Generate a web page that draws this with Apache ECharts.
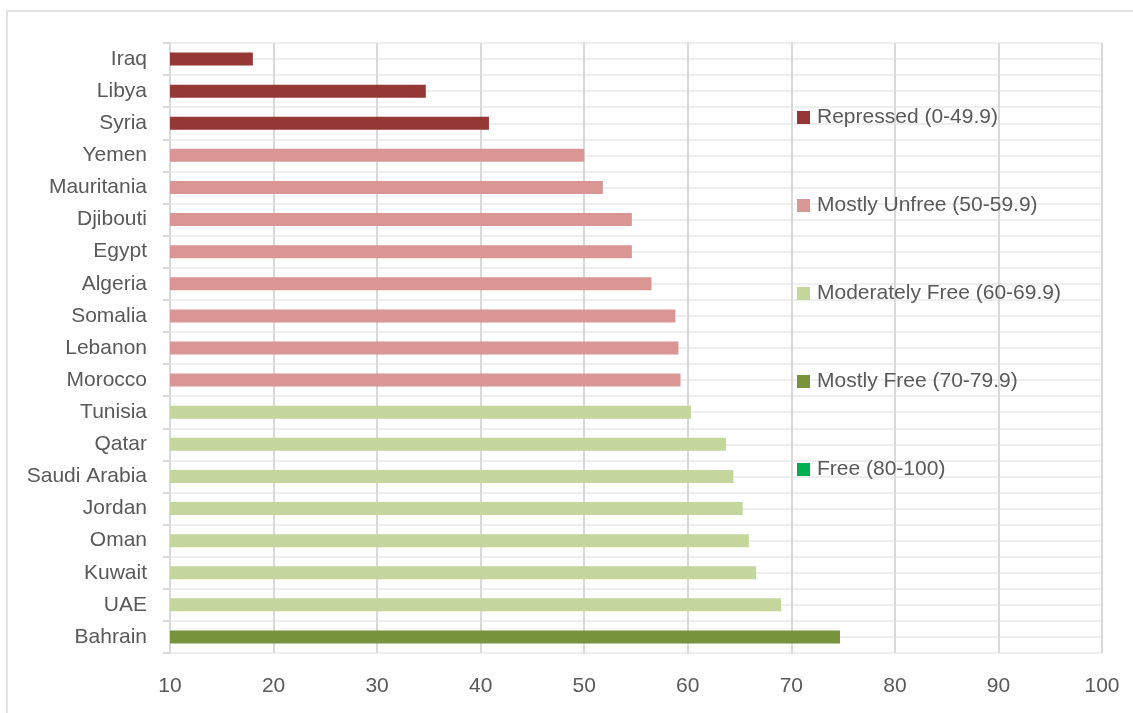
<!DOCTYPE html>
<html>
<head>
<meta charset="utf-8">
<script src="https://cdn.jsdelivr.net/npm/echarts@6/dist/echarts.min.js"></script>
<style>html,body{margin:0;padding:0;background:#fff;}#c{width:1133px;height:713px;}</style>
</head>
<body>
<div id="c"></div>
<script>
const countries = ['Iraq','Libya','Syria','Yemen','Mauritania','Djibouti','Egypt','Algeria','Somalia','Lebanon','Morocco','Tunisia','Qatar','Saudi Arabia','Jordan','Oman','Kuwait','UAE','Bahrain'];
const scores = [18.0,34.7,40.8,50.0,51.8,54.6,54.6,56.5,58.8,59.1,59.3,60.3,63.7,64.4,65.3,65.9,66.6,69.0,74.7];
const groupNames = ['Repressed (0-49.9)','Mostly Unfree (50-59.9)','Moderately Free (60-69.9)','Mostly Free (70-79.9)','Free (80-100)'];
const groupLimits = [0,50,60,70,80,100.1];
const groupColors = ['#953735','#D99694','#C3D69B','#77933C','#00B050'];
const xTicks = [10,20,30,40,50,60,70,80,90,100];

const FONT = 'Liberation Sans';
const TXT = '#595959';

const series = groupNames.map((name, g) => ({
  name: name,
  type: 'bar',
  stack: 'all',
  barWidth: 13,
  xAxisIndex: 0,
  yAxisIndex: 0,
  itemStyle: {color: groupColors[g]},
  data: scores.map(v => (v >= groupLimits[g] && v < groupLimits[g+1]) ? v : null)
}));

const chart = echarts.init(document.getElementById('c'));
chart.setOption({
  animation: false,
  backgroundColor: '#fff',
  textStyle: {fontFamily: FONT},
  graphic: [{
    type: 'rect', z: -10,
    shape: {x: 7, y: 11, width: 1140, height: 720},
    style: {fill: 'none', stroke: '#d9d9d9', lineWidth: 1.5}
  }],
  grid: {left: 170, right: 31, top: 43, bottom: 60, containLabel: false},
  legend: {
    orient: 'vertical',
    left: 792, top: 102,
    icon: 'rect',
    itemWidth: 13, itemHeight: 13,
    itemGap: 67,
    selectedMode: false,
    textStyle: {color: TXT, fontSize: 21, lineHeight: 20, fontFamily: FONT, padding: [0, 0, 0, 2]},
    data: groupNames
  },
  xAxis: {
    type: 'value',
    min: xTicks[0], max: xTicks[xTicks.length-1], interval: 10,
    axisLine: {show: false},
    axisTick: {show: false},
    axisLabel: {color: TXT, fontSize: 21, margin: 23, fontFamily: FONT},
    splitLine: {show: true, lineStyle: {color: '#d9d9d9', width: 2}}
  },
  yAxis: [{
    type: 'category',
    inverse: true,
    data: countries,
    axisLine: {show: true, lineStyle: {color: '#d9d9d9', width: 2}},
    axisTick: {show: true, length: 7, lineStyle: {color: '#d9d9d9', width: 2}},
    axisLabel: {color: TXT, fontSize: 21, margin: 23, fontFamily: FONT},
    splitLine: {show: false}
  }, {
    type: 'value',
    min: 0, max: countries.length * 2, interval: 1,
    position: 'left',
    axisLine: {show: false}, axisTick: {show: false}, axisLabel: {show: false},
    splitLine: {show: true, lineStyle: {color: '#efefef', width: 2}}
  }],
  series: series
});
</script>
</body>
</html>
